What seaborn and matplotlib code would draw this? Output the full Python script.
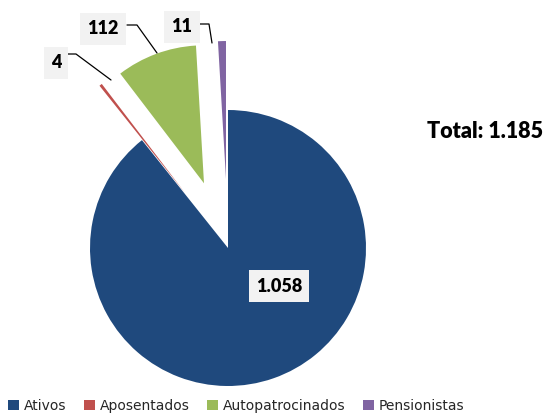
import matplotlib
matplotlib.use("Agg")
import matplotlib.pyplot as plt
import seaborn as sns
from matplotlib.patches import Patch

sns.set_theme(style="white")
plt.rcParams['font.family'] = ['DejaVu Sans']

categories = ["Ativos", "Aposentados", "Autopatrocinados", "Pensionistas"]
values = [1058, 4, 112, 11]
value_labels = ["1.058", "4", "112", "11"]
total_label = "Total: 1.185"
colors = ["#1F497D", "#C0504D", "#9BBB59", "#8064A2"]
explode = [0.0, 0.5, 0.5, 0.5]

W, H, DPI = 546, 418, 100
fig = plt.figure(figsize=(W / DPI, H / DPI), dpi=DPI)
ax = fig.add_axes([0, 0, 1, 1])

# pixel geometry: pie centre (228,248), radius 138 px
cx, cy, R = 228, 248, 138
def px(x, y):
    return ((x - cx) / R, (cy - y) / R)

wedges, _ = ax.pie(values, colors=colors, explode=explode, startangle=90,
                   counterclock=False, radius=1.0, center=(0, 0),
                   wedgeprops=dict(linewidth=0))
ax.set_xlim(-cx / R, (W - cx) / R)
ax.set_ylim(-(H - cy) / R, cy / R)
ax.set_aspect("equal")
ax.axis("off")

box = dict(boxstyle="square,pad=0.4", facecolor="#F2F2F2", edgecolor="none")
lab_font = dict(family="Lato", fontweight="heavy", fontsize=13, color="black")

# Ativos label inside
ax.text(*px(279, 286), value_labels[0], ha="center", va="center", bbox=box, **lab_font)

# Outside labels with leader lines (pixel anchors)
outside = [
    (1, (56, 63), [(68, 54), (76, 54), (111, 80)]),
    (2, (103, 29), [(127, 25), (137, 25), (157, 53)]),
    (3, (182, 27), [(200, 24), (209, 24), (212, 43)]),
]
for idx, (tx, ty), pts in outside:
    ax.text(*px(tx, ty), value_labels[idx], ha="center", va="center", bbox=box, **lab_font)
    xs, ys = zip(*[px(a, b) for a, b in pts])
    ax.plot(xs, ys, color="black", lw=0.9)

ax.text(*px(485, 131), total_label, ha="center", va="center",
        family="Lato", fontweight="heavy", fontsize=15.5, color="black")

handles = [Patch(facecolor=c, edgecolor="none") for c in colors]
fig.legend(handles, categories, loc="lower left", bbox_to_anchor=(0.0, -0.008),
           ncol=4, frameon=False, fontsize=10, handlelength=0.75, handleheight=0.75,
           handletextpad=0.35, columnspacing=1.3, borderaxespad=0.2)

fig.savefig("out.png", dpi=DPI)
